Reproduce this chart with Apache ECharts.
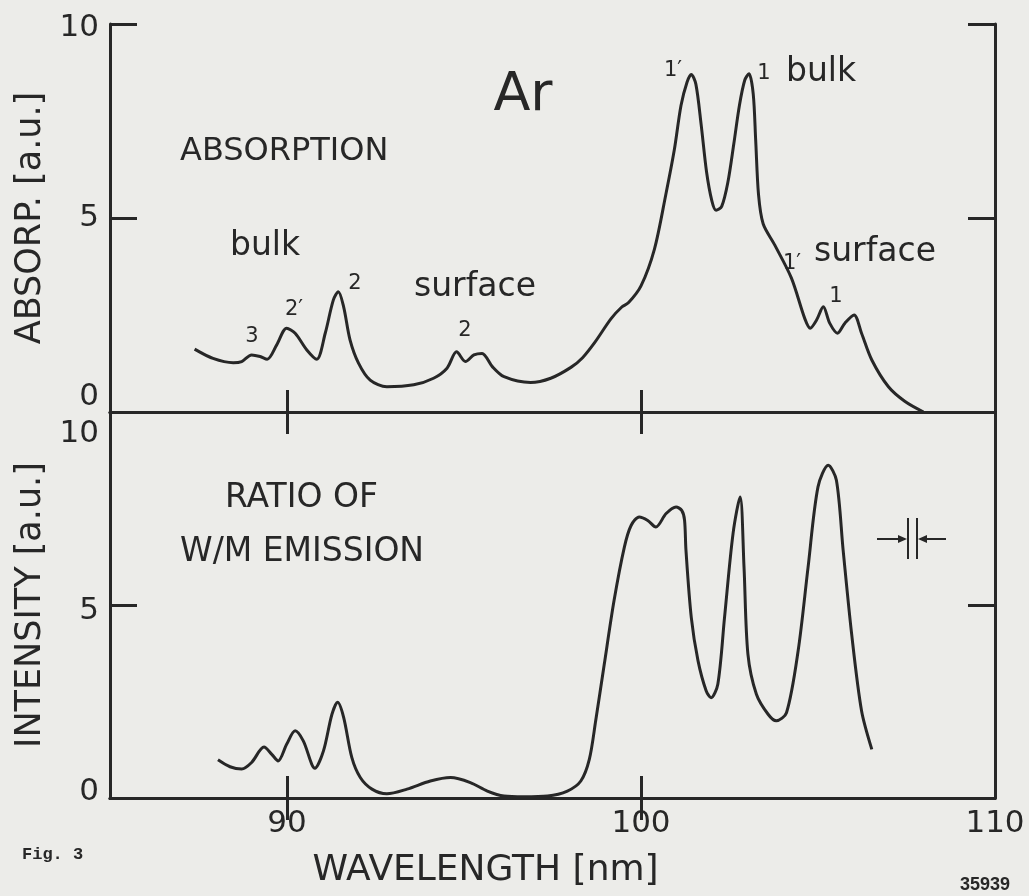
<!DOCTYPE html>
<html>
<head>
<meta charset="utf-8">
<script src="https://cdn.jsdelivr.net/npm/echarts@6/dist/echarts.min.js"></script>
<style>
  html, body { margin: 0; padding: 0; background: #ecece9; }
  #chart { width: 1029px; height: 896px; }
</style>
</head>
<body>
<div id="chart"></div>
<script>
// absorption spectrum (upper panel)
const absWavelength = [
  87.39, 87.91, 88.48, 88.72, 89.00, 89.24, 89.44, 89.71, 89.99, 90.23,
  90.56, 90.84, 91.08, 91.31, 91.45, 91.60, 91.78, 92.02, 92.35, 92.82,
  93.58, 94.14, 94.52, 94.79, 95.04, 95.28, 95.51, 95.80, 96.13, 96.88,
  97.45, 98.02, 98.35, 98.70, 99.15, 99.45, 99.65, 100.00, 100.38, 100.70,
  100.94, 101.13, 101.30, 101.42, 101.55, 101.70, 101.85, 102.00, 102.12, 102.28,
  102.45, 102.62, 102.78, 102.93, 103.05, 103.17, 103.24, 103.32, 103.45, 103.78,
  104.25, 104.63, 104.78, 104.96, 105.15, 105.33, 105.55, 105.76, 106.02, 106.23,
  106.52, 106.99, 107.46, 107.98
];
const absValues = [
  1.62, 1.38, 1.27, 1.30, 1.47, 1.43, 1.36, 1.73, 2.16, 2.03,
  1.60, 1.36, 2.03, 2.89, 3.10, 2.71, 1.86, 1.26, 0.82, 0.65,
  0.70, 0.87, 1.13, 1.55, 1.30, 1.47, 1.51, 1.17, 0.91, 0.76,
  0.87, 1.15, 1.40, 1.80, 2.40, 2.70, 2.82, 3.25, 4.20, 5.60,
  6.75, 7.90, 8.50, 8.70, 8.45, 7.40, 6.20, 5.45, 5.20, 5.30,
  5.90, 6.90, 7.90, 8.55, 8.72, 8.20, 7.00, 5.60, 4.85, 4.30,
  3.45, 2.40, 2.16, 2.37, 2.71, 2.29, 2.03, 2.29, 2.50, 2.03,
  1.34, 0.65, 0.27, 0.00
];

// ratio of W/M emission (lower panel)
const emWavelength = [
  88.05, 88.39, 88.72, 89.00, 89.35, 89.57, 89.75, 89.99, 90.23, 90.46,
  90.79, 91.03, 91.27, 91.43, 91.60, 91.83, 92.07, 92.40, 92.82, 93.39,
  94.05, 94.62, 95.18, 95.66, 96.13, 96.69, 97.36, 97.92, 98.30, 98.54,
  98.72, 98.96, 99.24, 99.53, 99.72, 99.95, 100.19, 100.42, 100.71, 100.99,
  101.15, 101.23, 101.27, 101.42, 101.61, 101.84, 101.98, 102.17, 102.36, 102.60,
  102.80, 102.91, 103.02, 103.26, 103.59, 103.82, 104.11, 104.44, 104.72, 105.00,
  105.29, 105.52, 105.71, 105.95, 106.23, 106.52
];
const emValues = [
  0.99, 0.81, 0.75, 0.92, 1.32, 1.13, 0.96, 1.39, 1.74, 1.48,
  0.77, 1.22, 2.17, 2.48, 2.09, 1.05, 0.53, 0.23, 0.11, 0.23,
  0.44, 0.53, 0.40, 0.18, 0.05, 0.03, 0.05, 0.18, 0.44, 1.00,
  2.00, 3.45, 5.12, 6.50, 7.06, 7.28, 7.19, 7.02, 7.37, 7.54,
  7.45, 7.20, 6.42, 4.68, 3.56, 2.78, 2.60, 2.95, 4.68, 6.85,
  7.80, 5.98, 3.73, 2.69, 2.17, 2.00, 2.21, 3.82, 5.98, 8.06,
  8.62, 8.23, 6.42, 4.25, 2.26, 1.26
];

const xTickLabels = [90, 100, 110];
const xTickMarks = [90, 100];

const ink = '#272727';
const font = 'DejaVu Sans';

function pair(xs, ys) {
  return xs.map((x, i) => [x, ys[i]]);
}

function xAxisCfg(grid, pos, withLabels) {
  return {
    type: 'value', gridIndex: grid, position: pos, min: 85, max: 110,
    axisLine: { show: true, lineStyle: { color: ink, width: 3 } },
    axisTick: { show: true, inside: true, length: 22, customValues: xTickMarks,
      lineStyle: { color: ink, width: 3 } },
    axisLabel: withLabels
      ? { show: true, customValues: xTickLabels, color: ink, fontFamily: font, fontSize: 31, margin: 10 }
      : { show: false },
    splitLine: { show: false }
  };
}

function yAxisCfg(grid, pos, rich, name) {
  const cfg = {
    type: 'value', gridIndex: grid, position: pos, min: 0, max: 10, interval: 5,
    axisLine: { show: true, lineStyle: { color: ink, width: 3 } },
    axisTick: { show: true, inside: true, length: 27, lineStyle: { color: ink, width: 3 } },
    axisLabel: { show: false },
    splitLine: { show: false }
  };
  if (rich) {
    cfg.axisLabel = {
      show: true, margin: 11, color: ink, fontFamily: font, fontSize: 31,
      formatter: v => '{' + (v === 0 ? 'lo' : v === 10 ? 'hi' : 'mid') + '|' + v + '}',
      rich: rich
    };
    cfg.name = name;
    cfg.nameLocation = 'middle';
    cfg.nameRotate = 90;
    cfg.nameGap = 57;
    cfg.nameTextStyle = { color: ink, fontFamily: font, fontSize: 35 };
  }
  return cfg;
}

const lbl = { color: ink, fontFamily: font, fontSize: 31 };
const topRich = {
  lo: Object.assign({ padding: [0, 0, 30, 0] }, lbl),
  mid: Object.assign({}, lbl),
  hi: Object.assign({ padding: [8, 0, 0, 0] }, lbl)
};
const bottomRich = {
  lo: Object.assign({ padding: [0, 0, 12, 0] }, lbl),
  mid: Object.assign({ padding: [12, 0, 0, 0] }, lbl),
  hi: Object.assign({ padding: [44, 0, 0, 0] }, lbl)
};

function txt(text, x, y, size, align) {
  return {
    type: 'text', x: x, y: y, silent: true,
    style: { text: text, fill: ink, font: size + 'px "' + font + '"',
      align: align || 'left', verticalAlign: 'middle' }
  };
}

const chart = echarts.init(document.getElementById('chart'), null, { renderer: 'canvas' });

const xName = xAxisCfg(1, 'bottom', true);
xName.name = 'WAVELENGTH [nm]';
xName.nameLocation = 'middle';
xName.nameGap = 55;
xName.nameTextStyle = { color: ink, fontFamily: font, fontSize: 36, padding: [0, 134, 0, 0] };

chart.setOption({
  animation: false,
  backgroundColor: '#ecece9',
  grid: [
    { left: 110, right: 34, top: 24, height: 388 },
    { left: 110, right: 34, top: 412, height: 386 }
  ],
  xAxis: [
    xAxisCfg(0, 'bottom', false),
    xAxisCfg(0, 'top', false),
    xAxisCfg(1, 'top', false),
    xName
  ],
  yAxis: [
    yAxisCfg(0, 'left', topRich, 'ABSORP. [a.u.]'),
    yAxisCfg(0, 'right', null),
    yAxisCfg(1, 'left', bottomRich, 'INTENSITY [a.u.]'),
    yAxisCfg(1, 'right', null)
  ],
  series: [
    {
      type: 'line', xAxisIndex: 0, yAxisIndex: 0,
      data: pair(absWavelength, absValues),
      showSymbol: false, smooth: 0.3,
      lineStyle: { color: ink, width: 3 }
    },
    {
      type: 'line', xAxisIndex: 3, yAxisIndex: 2,
      data: pair(emWavelength, emValues),
      showSymbol: false, smooth: 0.3,
      lineStyle: { color: ink, width: 3 }
    }
  ],
  graphic: [
    txt('Ar', 523, 96, 54, 'center'),
    txt('ABSORPTION', 180, 152, 32),
    txt('bulk', 230, 246, 33),
    txt('3', 252, 337, 21, 'center'),
    txt('2\u2032', 294, 310, 21, 'center'),
    txt('2', 355, 284, 21, 'center'),
    txt('surface', 414, 287, 33),
    txt('2', 465, 331, 21, 'center'),
    txt('1\u2032', 673, 71, 21, 'center'),
    txt('1', 764, 74, 21, 'center'),
    txt('bulk', 786, 72, 33),
    txt('1\u2032', 792, 264, 21, 'center'),
    txt('surface', 814, 252, 33),
    txt('1', 836, 297, 21, 'center'),
    txt('RATIO OF', 225, 498, 33),
    txt('W/M EMISSION', 180, 552, 33),
    // spectral band-pass symbol
    { type: 'line', silent: true, shape: { x1: 877, y1: 539, x2: 905, y2: 539 }, style: { stroke: ink, lineWidth: 2 } },
    { type: 'line', silent: true, shape: { x1: 920, y1: 539, x2: 946, y2: 539 }, style: { stroke: ink, lineWidth: 2 } },
    { type: 'line', silent: true, shape: { x1: 908, y1: 518, x2: 908, y2: 559 }, style: { stroke: ink, lineWidth: 2 } },
    { type: 'line', silent: true, shape: { x1: 917, y1: 518, x2: 917, y2: 559 }, style: { stroke: ink, lineWidth: 2 } },
    { type: 'polygon', silent: true, shape: { points: [[898, 535], [907, 539], [898, 543]] }, style: { fill: ink } },
    { type: 'polygon', silent: true, shape: { points: [[927, 535], [918, 539], [927, 543]] }, style: { fill: ink } },
    {
      type: 'text', x: 22, y: 855, silent: true,
      style: { text: 'Fig. 3', fill: ink, font: 'bold 17px "Liberation Mono"', verticalAlign: 'middle' }
    },
    {
      type: 'text', x: 960, y: 885, silent: true,
      style: { text: '35939', fill: ink, font: 'bold 18px "Liberation Sans"', verticalAlign: 'middle' }
    }
  ]
});
</script>
</body>
</html>
